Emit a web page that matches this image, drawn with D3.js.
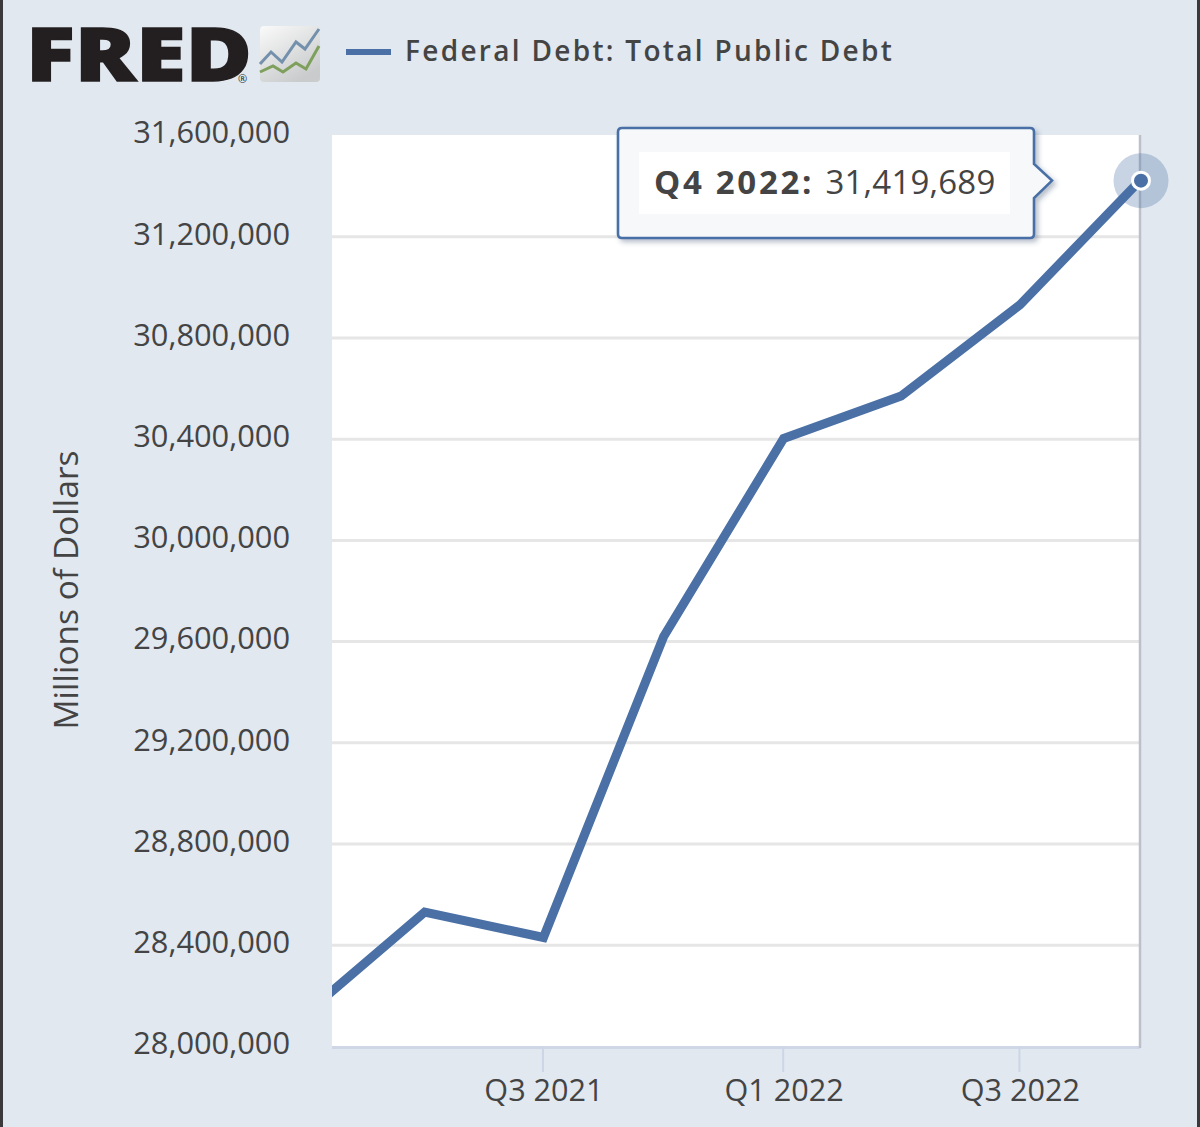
<!DOCTYPE html>
<html><head><meta charset="utf-8">
<script src="https://cdn.jsdelivr.net/npm/d3@7"></script>
<style>
html,body{margin:0;padding:0;background:#e1e8f0;}
svg{display:block;}
text{font-family:"Open Sans",sans-serif;}
</style></head><body>
<div id="chart"></div>
<script>
const seriesName = "Federal Debt: Total Public Debt";
const yTitle = "Millions of Dollars";
const quarters = ["Q1 2021","Q2 2021","Q3 2021","Q4 2021","Q1 2022","Q2 2022","Q3 2022","Q4 2022"];
const debt = [28132570,28529436,28428919,29617215,30400960,30568582,30928912,31419689];
const yTicks = [28000000,28400000,28800000,29200000,29600000,30000000,30400000,30800000,31200000,31600000];
const xTickLabels = ["Q3 2021","Q1 2022","Q3 2022"];
const highlight = "Q4 2022";

const W=1200,H=1127;
const m={left:332,right:1140,top:135,bottom:1046};
const blue="#4a70a6";
const parseQ=q=>new Date(+q.slice(3),(+q[1]-1)*3,1);
const x=d3.scaleTime().domain([new Date(2021,0,20),parseQ("Q4 2022")]).range([m.left,m.right]);
const y=d3.scaleLinear().domain([28000000,31600000]).range([m.bottom,m.top]);
const data=quarters.map((q,i)=>({q,date:parseQ(q),v:debt[i]}));

const svg=d3.select("#chart").append("svg").attr("width",W).attr("height",H);
const defs=svg.append("defs");
defs.append("clipPath").attr("id","plot").append("rect")
  .attr("x",m.left).attr("y",m.top).attr("width",m.right-m.left).attr("height",m.bottom-m.top);
const ig=defs.append("linearGradient").attr("id","ico").attr("x1",0).attr("y1",0).attr("x2",0.6).attr("y2",1);
ig.append("stop").attr("offset","0").attr("stop-color","#fafafa");
ig.append("stop").attr("offset","1").attr("stop-color","#c9cbcc");
const sh=defs.append("filter").attr("id","shadow").attr("x","-5%").attr("y","-10%").attr("width","112%").attr("height","125%");
sh.append("feDropShadow").attr("dx",3).attr("dy",3).attr("stdDeviation",2.5).attr("flood-color","#33466a").attr("flood-opacity",0.35);

// frame edges
svg.append("rect").attr("x",0).attr("y",0).attr("width",3).attr("height",H).attr("fill","#3a3a3c");
svg.append("rect").attr("x",1197).attr("y",0).attr("width",3).attr("height",H).attr("fill","#3a3a3c");
// plot
svg.append("rect").attr("x",m.left).attr("y",m.top).attr("width",m.right-m.left).attr("height",m.bottom-m.top).attr("fill","#fff");

// grid
const grid=svg.append("g").attr("transform",`translate(${m.left},0)`)
  .call(d3.axisLeft(y).tickValues(yTicks).tickSize(-(m.right-m.left)).tickFormat(""));
grid.select(".domain").remove();
grid.selectAll("line").attr("stroke","#e6e6e6").attr("stroke-width",3);
grid.selectAll(".tick").filter(d=>d===31600000||d===28000000).remove();

// y labels
const yAxis=svg.append("g").attr("transform",`translate(${m.left},0)`)
  .call(d3.axisLeft(y).tickValues(yTicks).tickSize(0).tickPadding(42).tickFormat(d3.format(",")));
yAxis.select(".domain").remove();
yAxis.selectAll("text").attr("font-size",30.8).attr("fill","#444").attr("dy","0.32em")
  .attr("font-family",'"Open Sans",sans-serif');
yAxis.selectAll(".tick text").attr("transform","translate(0,-2)");

// x axis
const xAxis=svg.append("g").attr("transform",`translate(0,${m.bottom})`)
  .call(d3.axisBottom(x).tickValues(xTickLabels.map(parseQ)).tickSize(26).tickPadding(7)
    .tickFormat(d=>"Q"+(d.getMonth()/3+1)+" "+d.getFullYear()));
xAxis.select(".domain").attr("stroke","#cfd6e6").attr("stroke-width",3).attr("d",`M${m.left},1.5H${m.right}`);
xAxis.selectAll("line").attr("stroke","#ccd6e6").attr("stroke-width",2).attr("transform","translate(-1,0)");
xAxis.selectAll("text").attr("font-size",30.6).attr("fill","#444").attr("font-family",'"Open Sans",sans-serif');

// right edge
svg.append("line").attr("x1",m.right).attr("x2",m.right).attr("y1",m.top).attr("y2",m.bottom+2)
  .attr("stroke","#bcc0c8").attr("stroke-width",2.5);

// y title
svg.append("text").attr("transform",`translate(78,590) rotate(-90)`).attr("text-anchor","middle")
  .attr("font-size",33.5).attr("fill","#444").text(yTitle);

// line
const line=d3.line().x(d=>x(d.date)).y(d=>y(d.v));
svg.append("path").datum(data).attr("clip-path","url(#plot)").attr("fill","none")
  .attr("stroke",blue).attr("stroke-width",9).attr("stroke-linejoin","miter").attr("d",line);

// marker
const hp=data.find(d=>d.q===highlight);
const px=x(hp.date)+1,py=y(hp.v);
svg.append("circle").attr("cx",px).attr("cy",py).attr("r",27.5).attr("fill",blue).attr("opacity",0.3);
svg.append("circle").attr("cx",px).attr("cy",py).attr("r",8.5).attr("fill",blue).attr("stroke","#fff").attr("stroke-width",3);

// tooltip
const tx0=618,tx1=1034,ty0=128,ty1=238,r=4;
const tipPath=`M${tx0+r},${ty0}H${tx1-r}Q${tx1},${ty0} ${tx1},${ty0+r}V164L1052,${py}L${tx1},198V${ty1-r}Q${tx1},${ty1} ${tx1-r},${ty1}H${tx0+r}Q${tx0},${ty1} ${tx0},${ty1-r}V${ty0+r}Q${tx0},${ty0} ${tx0+r},${ty0}Z`;
svg.append("path").attr("d",tipPath).attr("fill","#f7f8f9").attr("stroke",blue).attr("stroke-width",2.6).attr("filter","url(#shadow)");
svg.append("rect").attr("x",639).attr("y",152).attr("width",371).attr("height",62).attr("fill","#fff");
const tt=svg.append("text").attr("x",654).attr("y",194).attr("font-size",33).attr("fill","#444")
  .attr("font-family",'"Noto Sans",sans-serif');
tt.append("tspan").attr("font-weight",700).attr("letter-spacing",2.7).text(highlight+": ");
tt.append("tspan").attr("font-weight",400).attr("letter-spacing",0.2).text(d3.format(",")(hp.v));

// legend
svg.append("line").attr("x1",346).attr("x2",391).attr("y1",52).attr("y2",52).attr("stroke",blue).attr("stroke-width",6);
svg.append("text").attr("x",405).attr("y",61).attr("font-size",28).attr("font-weight",600)
  .attr("fill","#444").attr("letter-spacing",2.3).attr("font-family",'"Noto Sans",sans-serif').text(seriesName);

// logo
svg.append("text").attr("x",26).attr("y",81).attr("font-family","Inter,sans-serif").attr("font-weight",900)
  .attr("font-size",75).attr("fill","#231f20").attr("stroke","#231f20").attr("stroke-width",1.5)
  .attr("textLength",226).attr("lengthAdjust","spacingAndGlyphs").text("FRED");
svg.append("text").attr("x",238).attr("y",83).attr("font-size",11).attr("fill","#231f20").text("®");
const ic=svg.append("g").attr("transform","translate(260,26)");
ic.append("rect").attr("width",60).attr("height",56).attr("rx",4).attr("fill","url(#ico)");
ic.append("path").attr("d","M0,38L11,26L22,36L36,16L45,23L59,3").attr("fill","none").attr("stroke","#7390ad").attr("stroke-width",3);
ic.append("path").attr("d","M0,46L13,40L23,46L36,37L46,43L59,20").attr("fill","none").attr("stroke","#7ea05c").attr("stroke-width",3);
</script>
</body></html>
